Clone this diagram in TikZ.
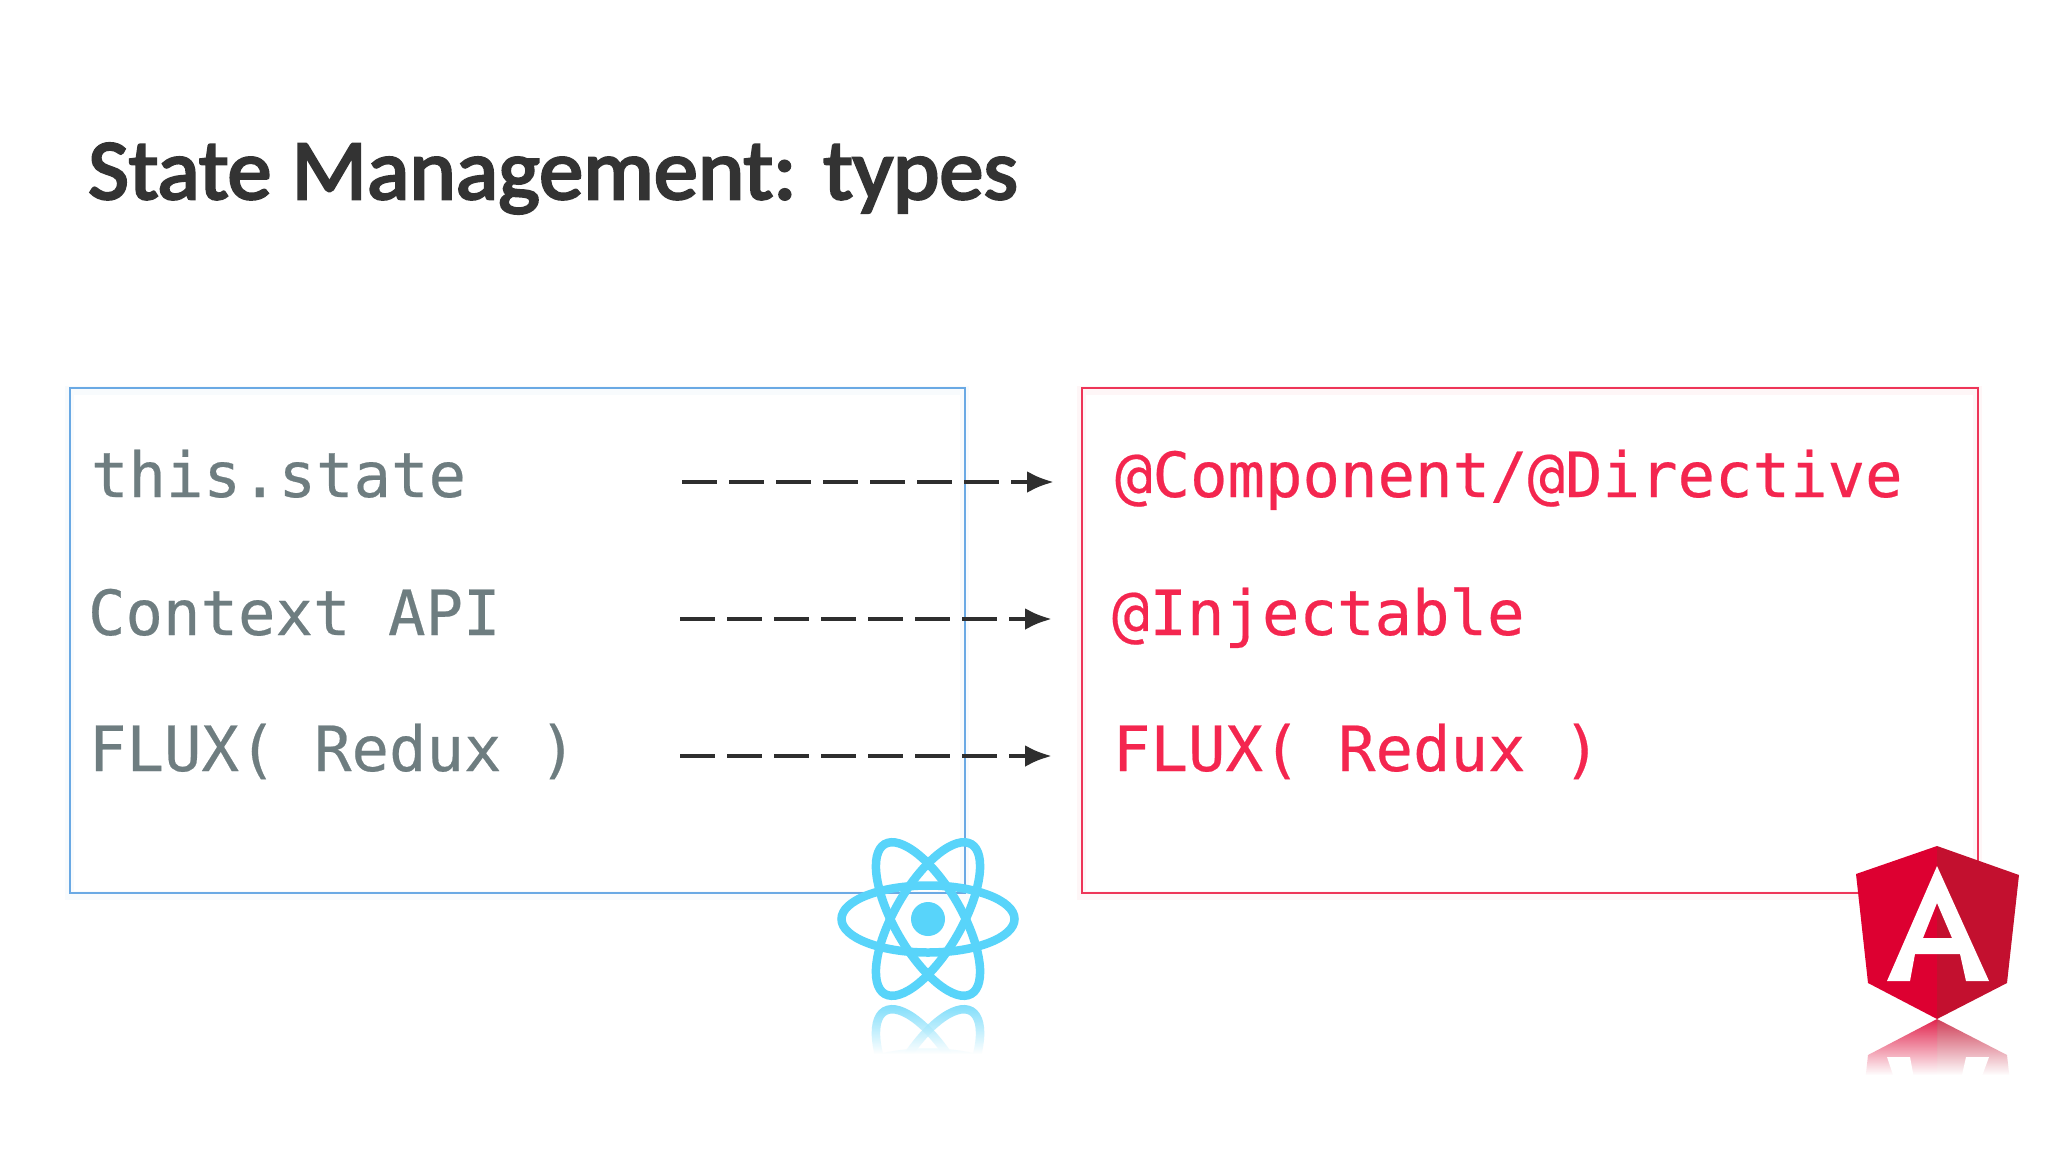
\documentclass[tikz,border=0pt]{standalone}
\usepackage{fontspec}
\usetikzlibrary{arrows.meta,fadings}
\setmonofont[FakeBold=0.35]{DejaVu Sans Mono}
\newfontfamily\titlefont[FakeBold=3]{Carlito}
\definecolor{reactblue}{HTML}{58D4FA}
\definecolor{boxblue}{HTML}{6AA9E4}
\definecolor{boxred}{HTML}{EE3558}
\definecolor{txtgrey}{HTML}{6E7D80}
\definecolor{txtred}{HTML}{F4264F}
\definecolor{glowblue}{HTML}{DCE6F8}
\definecolor{arrowdark}{HTML}{2E2E2E}
\definecolor{ngleft}{HTML}{DD0031}
\definecolor{ngright}{HTML}{C3102F}
\tikzfading[name=fadeout,top color=transparent!100,middle color=transparent!55,bottom color=transparent!0]
\tikzfading[name=softband,top color=transparent!100,middle color=transparent!0,bottom color=transparent!100]
\tikzset{
  panel/.style={line width=2pt,fill=none},
  halo/.style={line width=9pt,opacity=.07},
  code/.style={font=\ttfamily\fontsize{62.3}{62.3}\selectfont,anchor=base west,inner sep=0pt,outer sep=0pt},
  flow/.style={line width=4.8pt,arrowdark,dash pattern=on 35pt off 12pt,
     -{Latex[length=27pt,width=22pt,color=arrowdark,sharp]}},
  orbit/.style={line width=8.5pt,draw=reactblue},
  glow/.style={fill=glowblue,path fading=softband},
}
% soft shadow behind a text: x, baseline y, number of character cells
\newcommand{\softglow}[3]{%
  \fill[glow] (#1,#2-18) rectangle ({#1+37.5*#3},#2+14);
}
\begin{document}
\begin{tikzpicture}[x=1pt,y=-1pt]
\useasboundingbox (0,0) rectangle (2048,1152);
\fill[white] (0,0) rectangle (2048,1152);

% title
\node[anchor=base west,inner sep=0pt,text=black!80,font=\titlefont\fontsize{86}{86}\selectfont,transform shape,xscale=1.028] (title) at (88,199) {State Management: types};

% panels
\draw[boxblue!60,halo] (69,390) rectangle (964,895);
\draw[boxred!60,halo] (1081,390) rectangle (1977,895);
\node[panel,draw=boxblue,minimum width=895pt,minimum height=505pt,inner sep=0pt,anchor=north west] (reactbox) at (69,387) {};
\node[panel,draw=boxred,minimum width=896pt,minimum height=505pt,inner sep=0pt,anchor=north west] (ngbox) at (1081,387) {};

% text shadows
\softglow{91}{497}{10}
\softglow{88}{635}{11}
\softglow{89}{771}{13}
\softglow{1115}{497}{21}
\softglow{1112}{635}{11}
\softglow{1113}{771}{13}

% left texts
\node[code,text=txtgrey] (l1) at (91,497) {this.state};
\node[code,text=txtgrey] (l2) at (88,635) {Context API};
\node[code,text=txtgrey] (l3) at (89,771) {FLUX( Redux )};
% right texts
\node[code,text=txtred] (r1) at (1115,497) {@Component/@Directive};
\node[code,text=txtred] (r2) at (1112,635) {@Injectable};
\node[code,text=txtred] (r3) at (1113,771) {FLUX( Redux )};

% arrows
\coordinate (a1s) at (682,482); \coordinate (a1e) at (1054,482);
\coordinate (a2s) at (680,619); \coordinate (a2e) at (1052,619);
\coordinate (a3s) at (680,756); \coordinate (a3e) at (1052,756);
\draw[flow] (a1s) -- (a1e);
\draw[flow] (a2s) -- (a2e);
\draw[flow] (a3s) -- (a3e);

% react logo
\begin{scope}[shift={(928,919)}]
  \draw[orbit] (0,0) ellipse [x radius=86.5,y radius=33.5];
  \draw[orbit,rotate=60] (0,0) ellipse [x radius=86.5,y radius=33.5];
  \draw[orbit,rotate=-60] (0,0) ellipse [x radius=86.5,y radius=33.5];
  \fill[reactblue] (0,0) circle (17);
\end{scope}
% react reflection
\begin{scope}
  \clip (820,1004) rectangle (1040,1053);
  \begin{scope}[shift={(928,1086)}]
    \draw[orbit,opacity=.8] (0,0) ellipse [x radius=86.5,y radius=33.5];
    \draw[orbit,opacity=.8,rotate=60] (0,0) ellipse [x radius=86.5,y radius=33.5];
    \draw[orbit,opacity=.8,rotate=-60] (0,0) ellipse [x radius=86.5,y radius=33.5];
  \end{scope}
\end{scope}
\fill[white,path fading=fadeout] (820,1002) rectangle (1040,1054);

% angular reflection
\begin{scope}
  \clip (1850,1019) rectangle (2025,1074);
  \fill[ngleft,opacity=.85] (1937,1192) -- (1856,1164) -- (1868,1055) -- (1937,1019) -- cycle;
  \fill[ngright,opacity=.8] (1937,1192) -- (2019,1163) -- (2007,1055) -- (1937,1019) -- cycle;
  \fill[white] (1887,1057) -- (1910,1057) -- (1915,1084) -- (1896,1084) -- cycle;
  \fill[white] (1989,1057) -- (1966,1057) -- (1960,1084) -- (1979,1084) -- cycle;
\end{scope}
\fill[white,path fading=fadeout] (1850,1019) rectangle (2025,1075);

% angular logo
\fill[ngleft] (1937,846) -- (1856,874) -- (1868,983) -- (1937,1019) -- cycle;
\fill[ngright] (1937,846) -- (2019,875) -- (2007,983) -- (1937,1019) -- cycle;
\fill[white,even odd rule] (1937,866) -- (1887,981) -- (1910,981) -- (1915,954) -- (1960,954) -- (1966,981) -- (1989,981) -- cycle
  (1937,903) -- (1923,938) -- (1952,938) -- cycle;
\end{tikzpicture}
\end{document}
